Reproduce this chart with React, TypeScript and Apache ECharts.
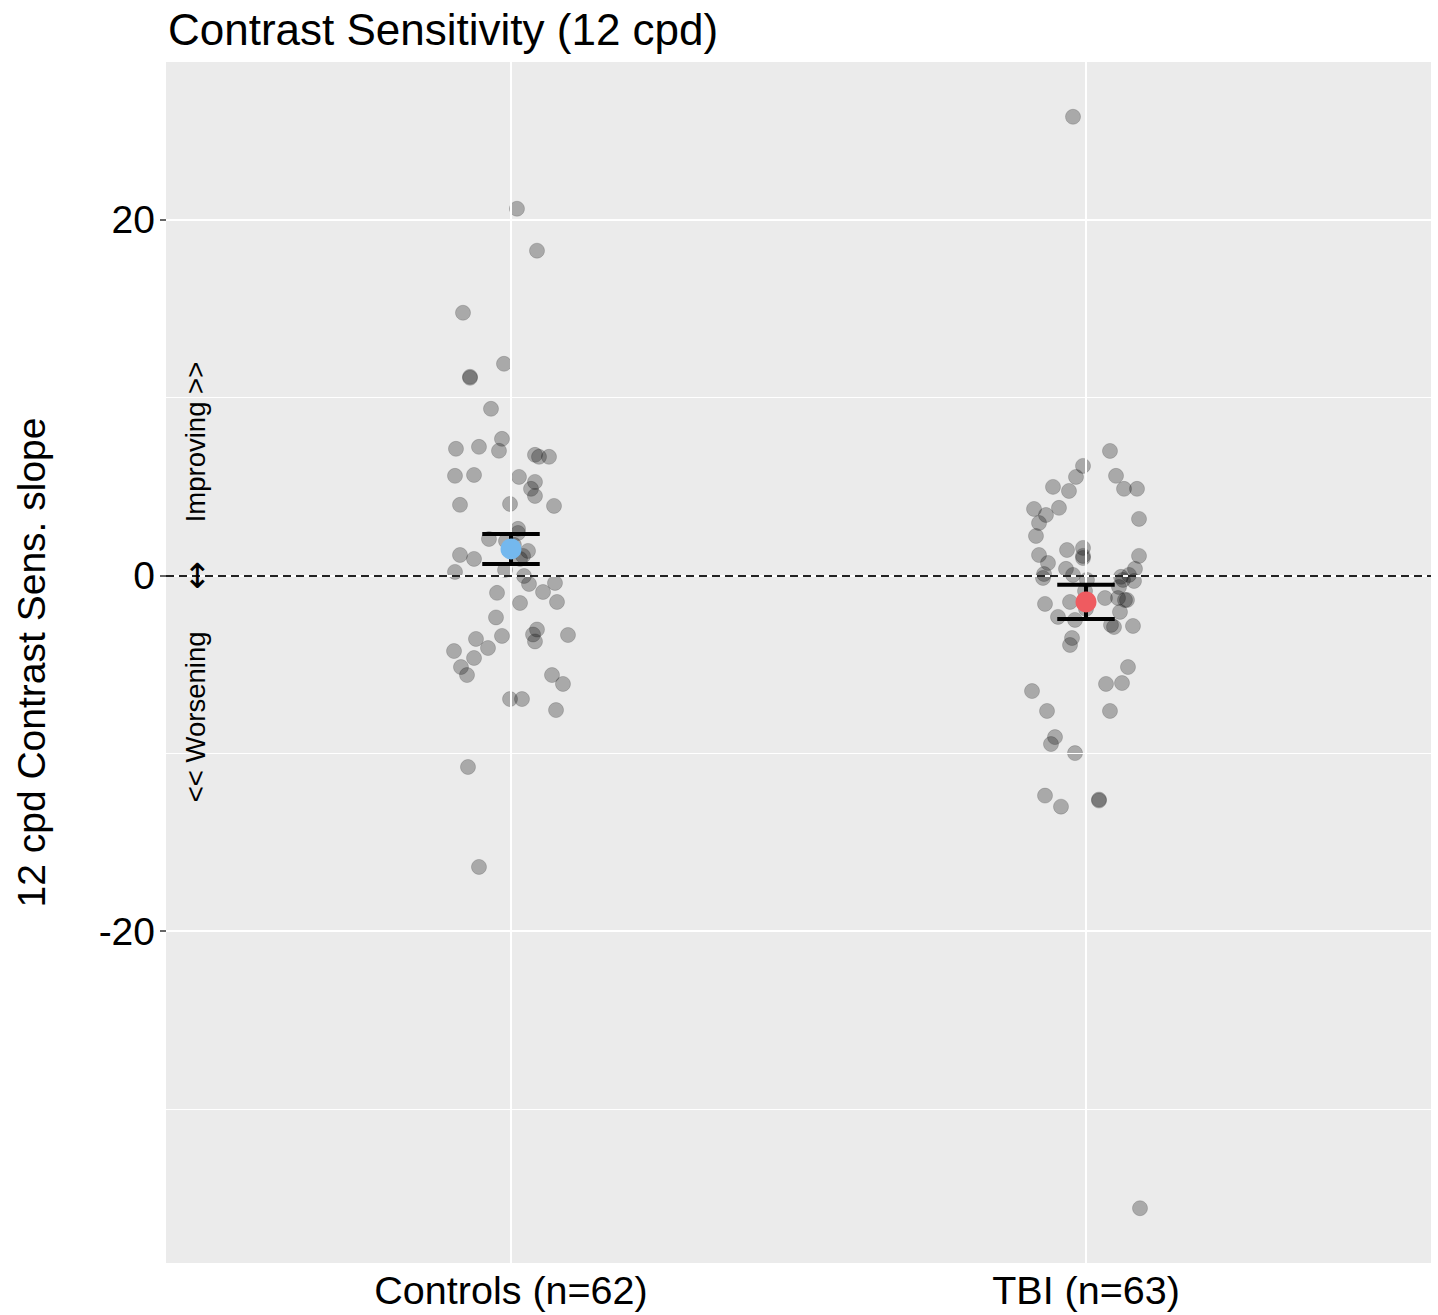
import React, { useEffect, useRef } from "react";
import * as echarts from "echarts";

const FONT = "'Liberation Sans', Arial, Helvetica, sans-serif";

const categories = ["Controls (n=62)", "TBI (n=63)"];
const titleText = "Contrast Sensitivity (12 cpd)";
const yAxisTitle = "12 cpd Contrast Sens. slope";
const yTicks = [-20, 0, 20];
const yMinorGrid = [-30, -10, 10];
const annotations = [
  { text: "Improving >>", y: 7.5, size: 27.5 },
  { text: "\u2194", y: 0, size: 34 },
  { text: "<< Worsening", y: -7.95, size: 27.5 },
];

// horizontal jitter (in category units) and values for each group
const controlsJitter = [
  0.0104, 0.0452, -0.0835, -0.0122, -0.0713, -0.0713, -0.0348, -0.0157, -0.0957, -0.0557,
  -0.0209, 0.0417, 0.0487, 0.0661, -0.0974, -0.0643, 0.0139, 0.0417, 0.0348, 0.0417,
  -0.0887, -0.0017, 0.0748, 0.0122, 0.0122, -0.0383, -0.0087, 0.0296, 0.0209, 0.0157,
  -0.0887, -0.0643, -0.0974, -0.0104, 0.0226, 0.0313, 0.0765, 0.0557, -0.0243, 0.0157,
  0.08, -0.0261, 0.0452, 0.0383, 0.0417, 0.0991, -0.0157, -0.0609, -0.04, -0.0991,
  -0.0643, -0.087, -0.0765, 0.0713, 0.0904, -0.0017, 0.0191, 0.0783, -0.0748, -0.0557,
  0.0, 0.005,
];
const controlsValues = [
  20.62, 18.26, 14.77, 11.9, 11.17, 11.11, 9.37, 7.68, 7.12, 7.23,
  7.01, 6.78, 6.67, 6.67, 5.6, 5.65, 5.54, 5.26, 4.87, 4.47,
  3.97, 4.02, 3.91, 2.62, 2.39, 2.05, 1.94, 1.38, 1.1, 0.93,
  1.15, 0.93, 0.2, 0.31, -0.03, -0.48, -0.42, -0.93, -0.98, -1.55,
  -1.49, -2.36, -3.04, -3.32, -3.71, -3.35, -3.4, -3.57, -4.08, -4.25,
  -4.64, -5.15, -5.6, -5.6, -6.1, -6.95, -6.95, -7.57, -10.77, -16.39,
  1.55, 1.72,
];
const tbiJitter = [
  0.0417, -0.0052, -0.0174, 0.0522, -0.0574, -0.0296, 0.0661, 0.0887, -0.0904, -0.0696,
  -0.047, -0.0817, 0.0922, -0.087, -0.033, -0.0052, -0.0052, -0.0052, -0.0817, 0.0922,
  -0.0661, 0.0852, -0.0348, -0.0226, -0.073, -0.0748, 0.0017, 0.0609, 0.0643, 0.0748,
  0.0835, 0.0574, -0.0017, -0.0713, -0.0278, 0.033, 0.0557, 0.0678, 0.0713, 0.0,
  0.0591, -0.0487, -0.0191, 0.0435, 0.0487, 0.0817, -0.0243, -0.0278, 0.073, 0.0348,
  0.0626, -0.0939, -0.0678, 0.0417, -0.0539, -0.0609, -0.0191, -0.0713, -0.0435, 0.0226,
  0.0226, -0.0226, 0.0939,
];
const tbiValues = [
  7.0, 6.16, 5.54, 5.6, 4.98, 4.75, 4.87, 4.87, 3.74, 3.4,
  3.8, 2.95, 3.18, 2.22, 1.43, 1.55, 1.1, 0.98, 1.15, 1.1,
  0.7, 0.37, 0.37, 0.03, 0.08, -0.14, -0.25, -0.08, -0.25, 0.03,
  -0.31, -0.65, -0.87, -1.6, -1.49, -1.27, -1.27, -1.38, -1.38, -1.88,
  -2.05, -2.33, -2.5, -2.78, -2.9, -2.84, -3.52, -3.91, -5.15, -6.1,
  -6.05, -6.5, -7.62, -7.62, -9.09, -9.48, -9.99, -12.38, -13.0, -12.6,
  -12.66, 25.79, -35.58,
];

const groupMeans = [1.49, -1.49];
const groupUpper = [2.33, -0.53];
const groupLower = [0.65, -2.45];
const meanColors = ["#74B8EE", "#EF5B60"];

const Y_MIN = -38.66;
const Y_MAX = 28.87;
const X_MIN = 0.4;
const X_MAX = 2.6;
const ERR_HALF_WIDTH = 0.05;

export default function App() {
  const ref = useRef<HTMLDivElement>(null);

  useEffect(() => {
    if (!ref.current) return;
    const chart = echarts.init(ref.current, undefined, { renderer: "svg" });

    const pointData: number[][] = [];
    controlsValues.forEach((v, i) => pointData.push([1 + controlsJitter[i], v]));
    tbiValues.forEach((v, i) => pointData.push([2 + tbiJitter[i], v]));

    const gridLines: any[] = [
      ...yMinorGrid.map((v) => ({ yAxis: v, lineStyle: { color: "#ffffff", width: 1, type: "solid" } })),
      ...yTicks.map((v) => ({ yAxis: v, lineStyle: { color: "#ffffff", width: 2, type: "solid" } })),
      ...[1, 2].map((x) => ({ xAxis: x, lineStyle: { color: "#ffffff", width: 2, type: "solid" } })),
    ];

    const option: any = {
      animation: false,
      backgroundColor: "#ffffff",
      textStyle: { fontFamily: FONT },
      title: {
        text: titleText,
        left: 163,
        top: 2,
        textStyle: { fontSize: 44, fontWeight: "normal", color: "#000000", fontFamily: FONT },
      },
      grid: {
        left: 166,
        right: 7,
        top: 62,
        bottom: 52,
        show: true,
        backgroundColor: "#EBEBEB",
        borderWidth: 0,
      },
      xAxis: {
        type: "value",
        min: X_MIN,
        max: X_MAX,
        axisLine: { show: false },
        splitLine: { show: false },
        axisTick: {
          show: true,
          customValues: [1, 2],
          length: 6,
          lineStyle: { color: "#333333", width: 1.5 },
        },
        axisLabel: {
          customValues: [1, 2],
          formatter: (v: number) => categories[Math.round(v) - 1] ?? "",
          fontSize: 39.5,
          color: "#000000",
          margin: 7,
          fontFamily: FONT,
        },
      },
      yAxis: {
        type: "value",
        min: Y_MIN,
        max: Y_MAX,
        name: yAxisTitle,
        nameLocation: "middle",
        nameRotate: 90,
        nameGap: 115,
        nameTextStyle: { fontSize: 39, color: "#000000", fontFamily: FONT },
        axisLine: { show: false },
        splitLine: { show: false },
        axisTick: {
          show: true,
          customValues: yTicks,
          length: 6,
          lineStyle: { color: "#333333", width: 1.5 },
        },
        axisLabel: {
          customValues: yTicks,
          fontSize: 39,
          color: "#000000",
          margin: 11,
          fontFamily: FONT,
        },
      },
      series: [
        {
          type: "line",
          data: [],
          z: 1,
          silent: true,
          markLine: {
            silent: true,
            symbol: ["none", "none"],
            label: { show: false },
            data: gridLines,
          },
        },
        {
          type: "scatter",
          data: pointData,
          z: 3,
          symbol: "circle",
          symbolSize: 15,
          itemStyle: {
            color: "rgba(0,0,0,0.35)",
            borderColor: "rgba(0,0,0,0.2)",
            borderWidth: 1,
          },
        },
        {
          type: "line",
          data: [],
          z: 4,
          silent: true,
          markLine: {
            silent: true,
            symbol: ["none", "none"],
            label: { show: false },
            data: [{ yAxis: 0, lineStyle: { color: "#222222", width: 2, type: [8, 5] } }],
          },
        },
        {
          type: "custom",
          z: 5,
          encode: { x: 0, y: [1, 2] },
          data: groupMeans.map((_, i) => [i + 1, groupLower[i], groupUpper[i]]),
          renderItem: (params: any, api: any) => {
            const x = api.value(0);
            const lo = api.value(1);
            const hi = api.value(2);
            const pLo = api.coord([x, lo]);
            const pHi = api.coord([x, hi]);
            const lL = api.coord([x - ERR_HALF_WIDTH, lo]);
            const lR = api.coord([x + ERR_HALF_WIDTH, lo]);
            const hL = api.coord([x - ERR_HALF_WIDTH, hi]);
            const hR = api.coord([x + ERR_HALF_WIDTH, hi]);
            const style = { stroke: "#000000", lineWidth: 4 };
            return {
              type: "group",
              children: [
                { type: "line", shape: { x1: pLo[0], y1: pLo[1], x2: pHi[0], y2: pHi[1] }, style },
                { type: "line", shape: { x1: lL[0], y1: lL[1], x2: lR[0], y2: lR[1] }, style },
                { type: "line", shape: { x1: hL[0], y1: hL[1], x2: hR[0], y2: hR[1] }, style },
              ],
            };
          },
        },
        {
          type: "scatter",
          z: 6,
          symbol: "circle",
          symbolSize: 21,
          data: groupMeans.map((m, i) => ({
            value: [i + 1, m],
            itemStyle: { color: meanColors[i], opacity: 1 },
          })),
        },
      ],
    };

    chart.setOption(option);

    const annX = 0.452;
    const graphics = annotations.map((a) => {
      const p = chart.convertToPixel({ gridIndex: 0 }, [annX, a.y]) as number[];
      return {
        type: "text",
        x: p[0],
        y: p[1],
        rotation: Math.PI / 2,
        z: 10,
        style: {
          text: a.text,
          fontSize: a.size,
          fontFamily: a.text === "\u2194" ? "'DejaVu Sans', " + FONT : FONT,
          fill: "#000000",
          align: "center",
          verticalAlign: "middle",
        },
      };
    });
    chart.setOption({ graphic: graphics });

    return () => chart.dispose();
  }, []);

  return (
    <div
      ref={ref}
      style={{ position: "absolute", left: 0, top: 0, width: 1438, height: 1315 }}
    />
  );
}
